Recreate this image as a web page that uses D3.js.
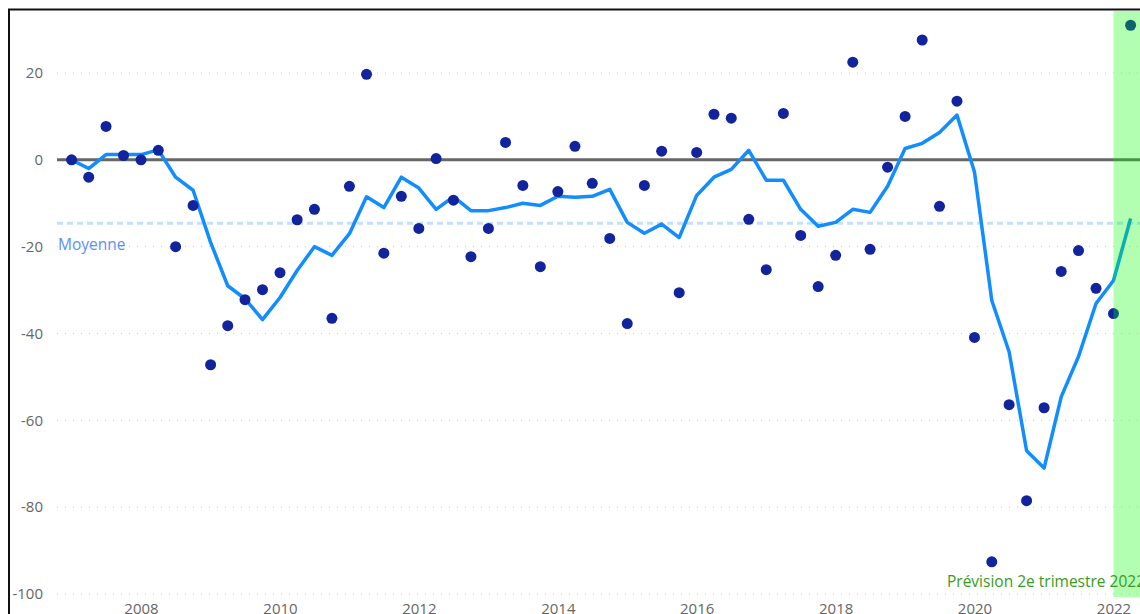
<!DOCTYPE html>
<html>
<head>
    <meta charset="utf-8">
    <title>Prévision</title>
    <script src="https://d3js.org/d3.v7.min.js"></script>
    <style>
        body { margin: 0; background: #fff; overflow: hidden; }
        text { font-family: "Open Sans", "Noto Sans", sans-serif; }
    </style>
</head>
<body>
<div id="chart"></div>

<script type="text/javascript">
    // trimestres, de 2007 T1 à 2022 T2
    let years = [2007, 2008, 2009, 2010, 2011, 2012, 2013, 2014, 2015, 2016, 2017, 2018, 2019, 2020, 2021, 2022]
    let quarters = []
    years.forEach(function(y) {
        [1, 2, 3, 4].forEach(function(q) {
            if (y < 2022 || q <= 2) quarters.push({year: y, q: q})
        })
    })

    // valeurs observées (points)
    let observed = [
        0, -4, 7.7, 1,
        0, 2.2, -20, -10.5,
        -47.2, -38.2, -32.2, -29.9,
        -26, -13.8, -11.4, -36.5,
        -6.1, 19.7, -21.5, -8.4,
        -15.8, 0.3, -9.3, -22.3,
        -15.8, 4, -5.9, -24.6,
        -7.3, 3.1, -5.4, -18.1,
        -37.7, -5.9, 2, -30.6,
        1.7, 10.5, 9.6, -13.7,
        -25.3, 10.7, -17.4, -29.2,
        -22, 22.5, -20.6, -1.7,
        10, 27.6, -10.7, 13.5,
        -40.9, -92.6, -56.4, -78.5,
        -57.1, -25.7, -20.9, -29.6,
        -35.4, 31
    ]

    // courbe lissée
    let trend = [
        0, -2, 1.2, 1.2,
        1.2, 2.3, -4, -7,
        -19, -29, -32, -36.8,
        -31.7, -25.5, -20, -22,
        -17, -8.5, -11, -4,
        -6.5, -11.4, -8.5, -11.7,
        -11.7, -11, -10, -10.5,
        -8.4, -8.6, -8.4, -6.8,
        -14.4, -16.9, -14.8, -17.9,
        -8.2, -4, -2.2, 2.2,
        -4.7, -4.7, -11.4, -15.3,
        -14.4, -11.4, -12.1, -6.1,
        2.6, 3.8, 6.3, 10.3,
        -2.8, -32.4, -44.2, -67,
        -71, -54.6, -45.3, -33.1,
        -27.8, -13.5
    ]

    let average = -14.6
    let yTicks = [20, 0, -20, -40, -60, -80, -100]
    let xTicks = [2008, 2010, 2012, 2014, 2016, 2018, 2020, 2022]
    let forecastStart = new Date(2022, 0, 1)
    let forecastLabel = "Prévision 2e trimestre 2022"
    let averageLabel = "Moyenne"

    let data = quarters.map(function(d, i) {
        return {date: new Date(d.year, (d.q - 1) * 3, 1), value: observed[i], trend: trend[i]}
    })

    let width = 1140, height = 614
    let plot = {left: 57, right: 1140, top: 11, bottom: 597}

    let svg = d3.select("#chart")
        .append("svg")
            .attr("width", width)
            .attr("height", height)

    let xScale = d3.scaleTime()
        .domain([new Date(2008, 0, 1), new Date(2022, 0, 1)])
        .range([141, 1113.5])

    let yScale = d3.scaleLinear()
        .domain([-100, 20])
        .range([594, 73])

    svg.append("clipPath").attr("id", "clip")
        .append("rect")
        .attr("x", plot.left - 10).attr("y", plot.top)
        .attr("width", plot.right - plot.left + 10).attr("height", plot.bottom - plot.top)

    // cadre
    svg.append("path")
        .attr("d", "M9,614 V9.5 H1140")
        .attr("fill", "none")
        .attr("stroke", "#111")
        .attr("stroke-width", 2)

    // grille
    svg.append("g")
        .selectAll("line")
        .data(yTicks.filter(function(t) { return t !== 0 }))
        .enter()
        .append("line")
        .attr("x1", plot.left)
        .attr("x2", plot.right)
        .attr("y1", function(d) { return yScale(d) })
        .attr("y2", function(d) { return yScale(d) })
        .attr("stroke", "#c8c8c8")
        .attr("stroke-width", 1)
        .attr("stroke-dasharray", "1,7")

    // axe Y
    let yAxis = d3.axisLeft(yScale).tickValues(yTicks).tickSize(0).tickPadding(0)
    let gy = svg.append("g")
        .attr("transform", "translate(43,0)")
        .call(yAxis)
    gy.select(".domain").remove()
    gy.selectAll("text")
        .attr("fill", "#666")
        .attr("font-size", "15px")
        .attr("font-family", "'Open Sans', sans-serif")
        .text(function(d) { return d })

    // axe X
    let xAxis = d3.axisBottom(xScale)
        .tickValues(xTicks.map(function(y) { return new Date(y, 0, 1) }))
        .tickFormat(d3.timeFormat("%Y"))
        .tickSize(0).tickPadding(0)
    let gx = svg.append("g")
        .attr("transform", "translate(0,603)")
        .call(xAxis)
    gx.select(".domain").remove()
    gx.selectAll("text")
        .attr("fill", "#666")
        .attr("font-size", "15px")
        .attr("font-family", "'Open Sans', sans-serif")

    // moyenne
    svg.append("line")
        .attr("x1", plot.left)
        .attr("x2", plot.right)
        .attr("y1", yScale(average))
        .attr("y2", yScale(average))
        .attr("stroke", "#c5e0fc")
        .attr("stroke-width", 3)
        .attr("stroke-dasharray", "6,4")

    svg.append("text")
        .attr("x", 58)
        .attr("y", yScale(average) + 27)
        .attr("fill", "#5b8ff9")
        .attr("font-size", "15.5px")
        .text(averageLabel)

    // ligne zéro
    svg.append("line")
        .attr("x1", plot.left)
        .attr("x2", plot.right)
        .attr("y1", yScale(0))
        .attr("y2", yScale(0))
        .attr("stroke", "#666")
        .attr("stroke-width", 3)

    let g = svg.append("g").attr("clip-path", "url(#clip)")

    let line = d3.line()
        .x(function(d) { return xScale(d.date) })
        .y(function(d) { return yScale(d.trend) })

    g.append("path")
        .datum(data)
        .attr("d", line)
        .attr("fill", "none")
        .attr("stroke", "#118dff")
        .attr("stroke-width", 3.5)
        .attr("stroke-linejoin", "round")

    g.selectAll("circle")
        .data(data)
        .enter()
        .append("circle")
        .attr("cx", function(d) { return xScale(d.date) })
        .attr("cy", function(d) { return yScale(d.value) })
        .attr("r", 5.5)
        .attr("fill", "#12239e")

    // zone de prévision
    svg.append("rect")
        .attr("x", xScale(forecastStart))
        .attr("y", plot.top)
        .attr("width", plot.right - xScale(forecastStart))
        .attr("height", plot.bottom - plot.top)
        .attr("fill", "#00ff00")
        .attr("opacity", 0.3)

    svg.append("text")
        .attr("x", 947)
        .attr("y", 587)
        .attr("fill", "#3c9a1e")
        .attr("font-size", "15.5px")
        .text(forecastLabel)
</script>
</body>
</html>
